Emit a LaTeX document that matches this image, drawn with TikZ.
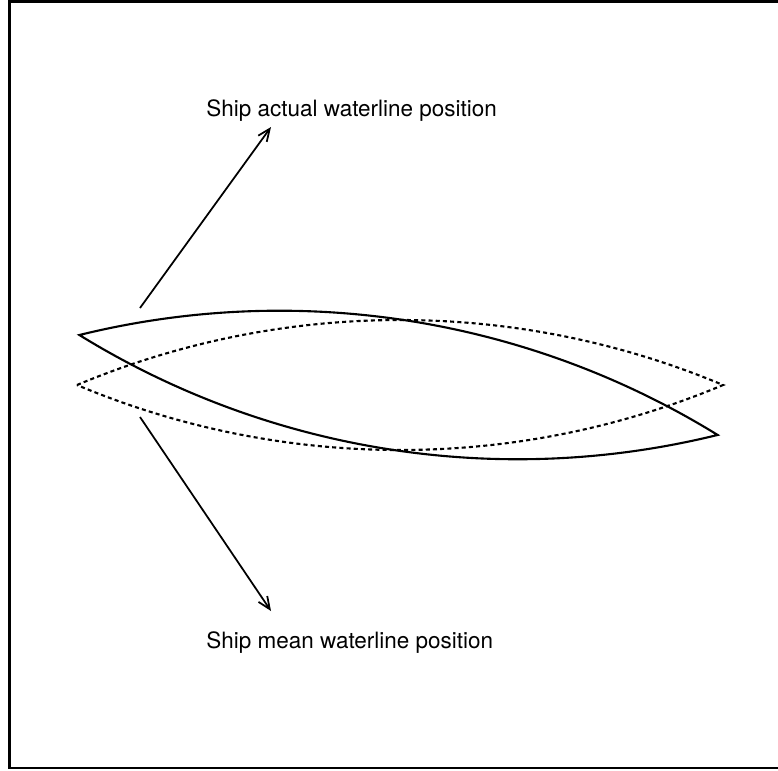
\documentclass[tikz,border=0pt]{standalone}
\usepackage{fontspec}
\setmainfont{TeX Gyre Heros}
\usetikzlibrary{arrows.meta}

\tikzset{
  hull/.style={line width=1.2pt,line join=miter},
  meanhull/.style={line width=1.2pt,dash pattern=on 2.3pt off 1.8pt},
  pointer/.style={->,line width=1pt},
  label/.style={anchor=base west,inner sep=0pt,font=\fontsize{12.8}{15}\selectfont},
}
% waterline outline, two circular arcs, centred on #1
\newcommand{\lens}[1]{#1 ++(-323,0) arc[start angle=-112.76,end angle=-67.24,radius=835]
  arc[start angle=67.24,end angle=112.76,radius=835] -- cycle}

\begin{document}
\begin{tikzpicture}[x=0.02cm,y=-0.02cm,>={Straight Barb[length=7pt,width=6pt]}]
  \useasboundingbox (0,0) rectangle (778,771);
  \draw[line width=1.4pt] (778,1.5) -- (9.5,1.5) -- (9.5,768) -- (778,768);
  \coordinate (Mc) at (400,385);
  \coordinate (Ac) at (398.5,385);
  \coordinate (A0) at (140,308);
  \coordinate (A1) at (271,127);
  \coordinate (M0) at (140,417);
  \coordinate (M1) at (271,611);
  \draw[meanhull] \lens{(Mc)};
  \draw[hull,rotate around={-8.9:(Ac)}] \lens{(Ac)};
  \node[label] (actual) at (206,116) {Ship actual waterline position};
  \node[label] (mean) at (206,648) {Ship mean waterline position};
  \draw[pointer] (A0) -- (A1);
  \draw[pointer] (M0) -- (M1);
\end{tikzpicture}
\end{document}
